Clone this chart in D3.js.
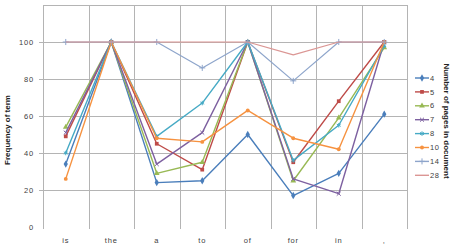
<!DOCTYPE html>
<html>
<head>
<meta charset="utf-8">
<script src="https://cdn.jsdelivr.net/npm/d3@7"></script>
<style>
  body { margin: 0; background: #fff; }
  svg { display: block; font-family: "Liberation Sans", Arial, sans-serif; }
</style>
</head>
<body>
<div id="chart"></div>
<script>
// categories (terms) on the x axis
var terms = ["is", "the", "a", "to", "of", "for", "in", ","];

// one array per "number of pages in document" series
var pages4  = [34, 100, 24, 25, 50, 17, 29, 61];
var pages5  = [49, 100, 45, 31, 100, 35, 68, 100];
var pages6  = [54, 100, 29, 35, 100, 25, 59, 97];
var pages7  = [51, 100, 34, 51, 100, 26, 18, 100];
var pages8  = [40, 100, 49, 67, 100, 36, 55, 98];
var pages10 = [26, 100, 48, 46, 63, 48, 42, 100];
var pages14 = [100, 100, 100, 86, 100, 79, 100, 100];
var pages28 = [100, 100, 100, 100, 100, 93, 100, 100];

var seriesNames = ["4", "5", "6", "7", "8", "10", "14", "28"];
var seriesValues = [pages4, pages5, pages6, pages7, pages8, pages10, pages14, pages28];
var yTicks = [0, 20, 40, 60, 80, 100];

var colors = ["#4a7ebb", "#be4b48", "#98b954", "#7d60a0", "#46aac5", "#f69240", "#8ea5cb", "#db9694"];
var symbols = [d3.symbolDiamond, d3.symbolSquare, d3.symbolTriangle, d3.symbolTimes,
               d3.symbolAsterisk, d3.symbolCircle, d3.symbolPlus, null];
var symSize = [16, 14, 14, 12, 14, 12, 14, 0];

var svgWidth = 457;
var svgHeight = 252;

var svg = d3.select("#chart")
  .append("svg")
    .attr("width", svgWidth)
    .attr("height", svgHeight);

// scales
var x = d3.scaleBand().domain(terms).range([43, 407]).padding(0);
var y = d3.scaleLinear().domain([0, 120]).range([227, 5]);
var cx = function(d) { return x(d) + x.bandwidth() / 2; };

var grid = "#b4b4b4";

// horizontal gridlines (with tick stubs to the left of the axis)
svg.append("g")
  .selectAll("line")
  .data(yTicks.concat([120]))
  .enter()
  .append("line")
    .attr("x1", function(d) { return d === 120 ? 43 : 39; })
    .attr("x2", 407)
    .attr("y1", function(d) { return Math.round(y(d)) + 0.5; })
    .attr("y2", function(d) { return Math.round(y(d)) + 0.5; })
    .style("stroke", function(d) { return d === 0 ? "none" : grid; })
    .style("stroke-width", 1);

// vertical gridlines at category boundaries
var bounds = terms.map(function(d) { return x(d); }).concat([407]);
svg.append("g")
  .selectAll("line")
  .data(bounds)
  .enter()
  .append("line")
    .attr("x1", function(d) { return Math.round(d) + 0.5; })
    .attr("x2", function(d) { return Math.round(d) + 0.5; })
    .attr("y1", y(120))
    .attr("y2", 229)
    .style("stroke", grid)
    .style("stroke-width", 1);

// y tick labels
svg.append("g")
  .selectAll("text")
  .data(yTicks)
  .enter()
  .append("text")
    .attr("x", 34)
    .attr("y", function(d) { return y(d); })
    .attr("dy", "0.35em")
    .attr("text-anchor", "end")
    .style("font-size", "7.5px")
    .style("letter-spacing", "0.8px")
    .style("fill", "#404040")
    .text(function(d) { return d; });

// category labels
svg.append("g")
  .selectAll("text")
  .data(terms)
  .enter()
  .append("text")
    .attr("x", cx)
    .attr("y", 243)
    .attr("text-anchor", "middle")
    .style("font-size", "7.5px")
    .style("letter-spacing", "0.8px")
    .style("fill", "#404040")
    .text(function(d) { return d; });

// y axis title
svg.append("text")
  .attr("transform", "translate(10,130) rotate(-90)")
  .attr("text-anchor", "middle")
  .style("font-size", "8px")
  .style("font-weight", "bold")
  .style("fill", "#222")
  .text("Frequency of term");

// series lines + markers
var line = d3.line()
  .x(function(d, i) { return cx(terms[i]); })
  .y(function(d) { return y(d); });

for (let s = 0; s < seriesValues.length; s++)
{
  svg.append("path")
    .datum(seriesValues[s])
    .attr("d", line)
    .style("fill", "none")
    .style("stroke", colors[s])
    .style("stroke-width", s >= 6 ? 1.2 : 1.4)
    .style("stroke-linejoin", "round");

  if (symbols[s])
  {
    const filled = [0, 1, 2, 5].indexOf(s) >= 0;
    svg.append("g")
      .selectAll("path")
      .data(seriesValues[s])
      .enter()
      .append("path")
        .attr("transform", function(d, i) {
          return "translate(" + cx(terms[i]) + "," + y(d) + ")";
        })
        .attr("d", d3.symbol().type(symbols[s]).size(symSize[s]))
        .style("fill", filled ? colors[s] : "none")
        .style("stroke", filled ? "none" : colors[s])
        .style("stroke-width", 1);
  }
}

// legend
var legend = svg.append("g").attr("transform", "translate(415,78)");
var item = legend.selectAll("g")
  .data(seriesNames)
  .enter()
  .append("g")
    .attr("transform", function(d, i) { return "translate(0," + (i * 13.9) + ")"; });

item.append("line")
  .attr("x1", 0).attr("x2", 14)
  .attr("y1", 0).attr("y2", 0)
  .style("stroke", function(d, i) { return colors[i]; })
  .style("stroke-width", 1.4);

item.each(function(d, i) {
  if (!symbols[i]) return;
  const filled = [0, 1, 2, 5].indexOf(i) >= 0;
  d3.select(this).append("path")
    .attr("transform", "translate(7,0)")
    .attr("d", d3.symbol().type(symbols[i]).size(symSize[i]))
    .style("fill", filled ? colors[i] : "none")
    .style("stroke", filled ? "none" : colors[i]);
});

item.append("text")
  .attr("x", 15)
  .attr("y", 0)
  .attr("dy", "0.35em")
  .style("font-size", "7.5px")
  .style("letter-spacing", "0.6px")
  .style("fill", "#404040")
  .text(function(d) { return d; });

// legend title
svg.append("text")
  .attr("transform", "translate(444,121) rotate(90)")
  .attr("text-anchor", "middle")
  .style("font-size", "8px")
  .style("font-weight", "bold")
  .style("fill", "#222")
  .text("Number of pages in document");
</script>
</body>
</html>
